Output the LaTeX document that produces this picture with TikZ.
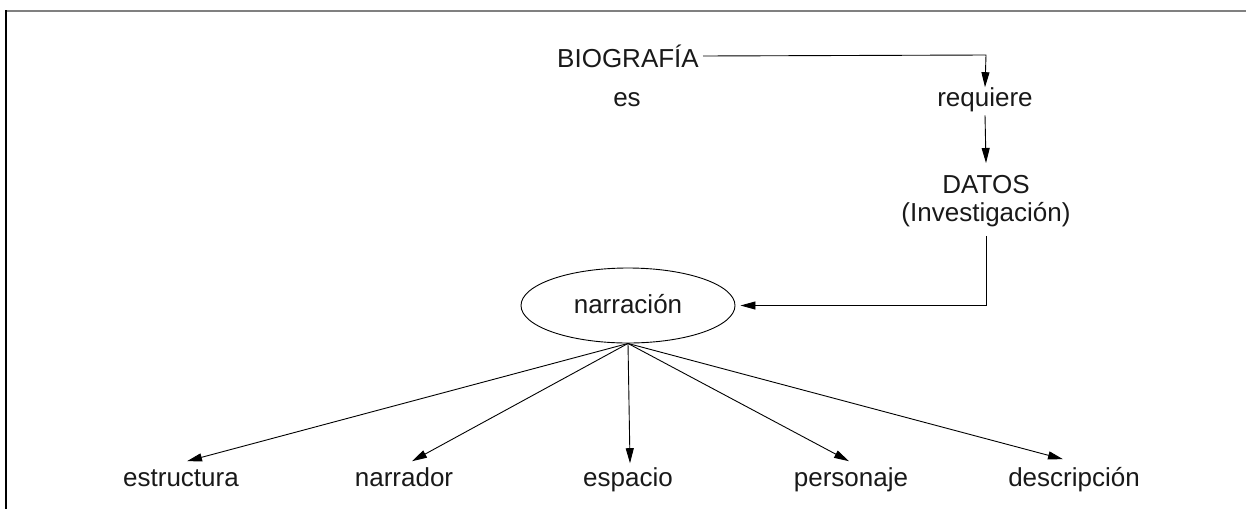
\documentclass[tikz,border=0pt]{standalone}
\usepackage{fontspec}
\setmainfont{Liberation Sans}
\usetikzlibrary{arrows.meta,shapes.geometric}
\begin{document}
\begin{tikzpicture}[x=1pt,y=-1pt,
  lbl/.style={font=\fontsize{26}{28}\selectfont, inner sep=0pt, text height=15.6pt, text depth=5.2pt, anchor=base, text=black!90},
  conn/.style={draw=black, line width=0.9pt},
  arr/.style={conn, -{Triangle[length=15pt,width=8pt]}},
  oval/.style={ellipse, draw=black, line width=0.9pt, minimum width=214pt, minimum height=75pt, inner sep=0pt, font=\fontsize{26}{28}\selectfont, text height=15pt, text depth=0pt, text=black!90}
]
\useasboundingbox (0,0) rectangle (1246,509);
% frame
\draw[black!50, line width=2pt] (5,10.5) -- (1246,10.5);
\draw[black, line width=2pt] (5.5,10) -- (5.5,509);

\node[lbl] (bio) at (628,67) {BIOGRAFÍA};
\node[lbl] (es) at (627,106) {es};
\node[lbl] (req) at (985,106) {requiere};
\node[font=\fontsize{26}{28}\selectfont, align=center, inner sep=0pt, anchor=north, text=black!90] (datos) at (986,175) {DATOS\\(Investigación)};
\node[oval] (narr) at (628,305.5) {narración};

\node[lbl] (estr) at (181,486) {estructura};
\node[lbl] (narrd) at (404,486) {narrador};
\node[lbl] (esp) at (628,486) {espacio};
\node[lbl] (pers) at (851,486) {personaje};
\node[lbl] (desc) at (1074,486) {descripción};

\coordinate (corner) at (986,55);
\draw[arr] ([xshift=4pt,yshift=11pt]bio.base east) -- (corner) -- ([yshift=3pt]req.north);
\draw[arr] ([yshift=-4pt]req.south) -- ([yshift=12pt]datos.north);
\draw[arr, shorten >=5pt] ([yshift=-9pt]datos.south) |- (narr.east);

\draw[arr] (narr.south) -- ([xshift=6pt,yshift=9pt]estr.north);
\draw[arr] (narr.south) -- ([xshift=8pt,yshift=9pt]narrd.north);
\draw[arr] (narr.south) -- ([xshift=2pt,yshift=7pt]esp.north);
\draw[arr] (narr.south) -- ([xshift=-2pt,yshift=9pt]pers.north);
\draw[arr] (narr.south) -- ([xshift=-11pt,yshift=11pt]desc.north);
\end{tikzpicture}
\end{document}
